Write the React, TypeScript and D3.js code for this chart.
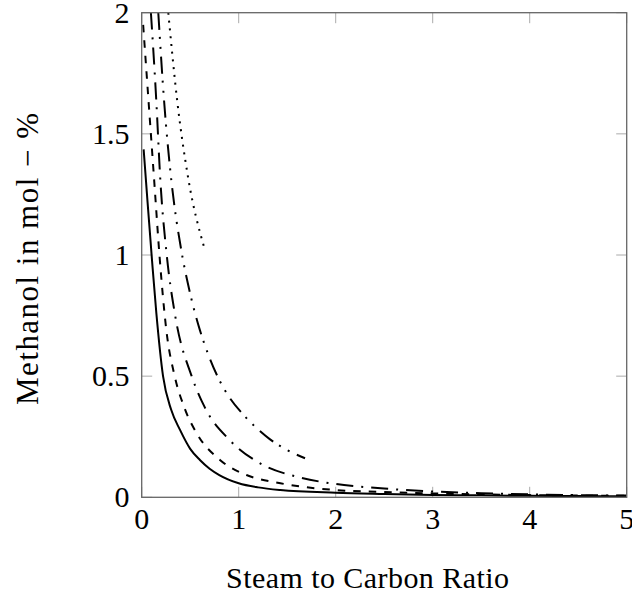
import React from "react";
import * as d3 from "d3";

const W = 632;
const H = 596;

const xTicks = [0, 1, 2, 3, 4, 5];
const yTicks = [0, 0.5, 1, 1.5, 2];
const yTickLabels = ["0", "0.5", "1", "1.5", "2"];

const solidX = [0.02, 0.06, 0.106, 0.151, 0.22, 0.305, 0.395, 0.5, 0.6, 0.7, 0.8, 1.0, 1.2, 1.43, 2.0, 2.5, 3.0, 3.5, 4.0, 4.5, 5.0];
const solidY = [1.436, 1.22, 0.98, 0.76, 0.5, 0.36, 0.278, 0.2, 0.154, 0.118, 0.092, 0.058, 0.041, 0.03, 0.019, 0.014, 0.01, 0.008, 0.006, 0.005, 0.004];

const dashedX = [0.015, 0.075, 0.13, 0.185, 0.254, 0.34, 0.44, 0.567, 0.807, 1.08, 1.43, 2.0, 2.5, 3.0, 3.5, 4.0, 4.5, 5.0];
const dashedY = [1.95, 1.61, 1.3, 0.99, 0.69, 0.5, 0.37, 0.264, 0.154, 0.092, 0.058, 0.03, 0.022, 0.016, 0.012, 0.009, 0.007, 0.006];

const dashDotX = [0.095, 0.15, 0.192, 0.258, 0.345, 0.515, 0.652, 0.91, 1.254, 1.6, 2.0, 2.25, 2.5, 3.0, 3.5, 4.0, 4.5, 5.0];
const dashDotY = [2.0, 1.64, 1.31, 1.0, 0.75, 0.5, 0.37, 0.235, 0.133, 0.085, 0.055, 0.044, 0.036, 0.024, 0.017, 0.012, 0.009, 0.007];

const dashDotDotX = [0.171, 0.23, 0.305, 0.408, 0.5, 0.6, 0.7, 0.8, 0.9, 1.05, 1.2, 1.32, 1.5, 1.684];
const dashDotDotY = [2.0, 1.64, 1.31, 1.02, 0.84, 0.69, 0.575, 0.484, 0.415, 0.34, 0.28, 0.24, 0.195, 0.161];

const dottedX = [0.274, 0.367, 0.477, 0.65];
const dottedY = [2.0, 1.633, 1.323, 1.023];

const seriesList = [
  { xs: solidX, ys: solidY, dash: "none" },
  { xs: dashedX, ys: dashedY, dash: "7.5 8" },
  { xs: dashDotX, ys: dashDotY, dash: "17 8 2 8" },
  { xs: dashDotDotX, ys: dashDotDotY, dash: "17 7 2 8 2 8" },
  { xs: dottedX, ys: dottedY, dash: "2 5.8" },
];

const X0 = 141.7, X1 = 626.7, Y0 = 497.3, Y1 = 12.7;
const FONT = "'Liberation Serif', 'Times New Roman', serif";

export default function App() {
  const x = d3.scaleLinear().domain([0, 5]).range([X0, X1]);
  const y = d3.scaleLinear().domain([0, 2]).range([Y0, Y1]);
  const line = d3
    .line<[number, number]>()
    .x((d) => x(d[0]))
    .y((d) => y(d[1]))
    .curve(d3.curveMonotoneX);
  const tl = 10.5;
  return (
    <svg
      width={W}
      height={H}
      style={{ position: "absolute", left: 0, top: 0, background: "#fff" }}
    >
      <defs>
        <clipPath id="plotclip">
          <rect x={X0} y={Y1} width={X1 - X0} height={Y0 - Y1} />
        </clipPath>
      </defs>
      {xTicks.map((t) => (
        <g key={"xt" + t} stroke="#aaa" strokeWidth={1}>
          <line x1={x(t)} x2={x(t)} y1={Y0} y2={Y0 - tl} />
          <line x1={x(t)} x2={x(t)} y1={Y1} y2={Y1 + tl} />
        </g>
      ))}
      {yTicks.map((t) => (
        <g key={"yt" + t} stroke="#aaa" strokeWidth={1}>
          <line x1={X0} x2={X0 + tl} y1={y(t)} y2={y(t)} />
          <line x1={X1} x2={X1 - tl} y1={y(t)} y2={y(t)} />
        </g>
      ))}
      <g clipPath="url(#plotclip)">
        {seriesList.map((s, i) => (
          <path
            key={i}
            d={line(s.xs.map((v, j) => [v, s.ys[j]] as [number, number])) || ""}
            fill="none"
            stroke="#000"
            strokeWidth={2}
            strokeDasharray={s.dash}
          />
        ))}
      </g>
      <rect
        x={X0}
        y={Y1}
        width={X1 - X0}
        height={Y0 - Y1}
        fill="none"
        stroke="#666"
        strokeWidth={1.3}
      />
      {xTicks.map((t) => (
        <text
          key={"xl" + t}
          x={x(t)}
          y={529}
          textAnchor="middle"
          fontFamily={FONT}
          fontSize={30}
          fill="#000"
        >
          {String(t)}
        </text>
      ))}
      {yTicks.map((t, i) => (
        <text
          key={"yl" + t}
          x={129.5}
          y={y(t) + 10}
          textAnchor="end"
          fontFamily={FONT}
          fontSize={30}
          fill="#000"
        >
          {yTickLabels[i]}
        </text>
      ))}
      <text
        x={226}
        y={588}
        fontFamily={FONT}
        fontSize={30}
        textLength={283}
        lengthAdjust="spacing"
        fill="#000"
      >
        Steam to Carbon Ratio
      </text>
      <text
        transform={`translate(37.5, ${(Y0 + Y1) / 2 + 4}) rotate(-90)`}
        textAnchor="middle"
        fontFamily={FONT}
        fontSize={31}
        textLength={292}
        lengthAdjust="spacing"
        fill="#000"
      >
        Methanol in mol − %
      </text>
    </svg>
  );
}
